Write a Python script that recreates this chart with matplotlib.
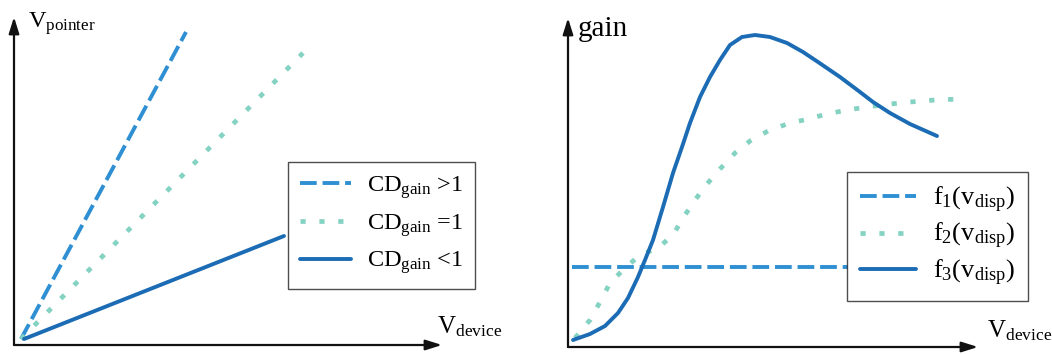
import matplotlib
matplotlib.use("Agg")
import matplotlib.pyplot as plt

plt.rcParams['font.family'] = ['Liberation Serif', 'DejaVu Serif']
plt.rcParams['mathtext.fontset'] = 'custom'
plt.rcParams['mathtext.rm'] = 'Liberation Serif'
plt.rcParams['mathtext.it'] = 'Liberation Serif:italic'
plt.rcParams['mathtext.bf'] = 'Liberation Serif:bold'

# ---------------- data (left panel: pointer vs device speed) ----------------
left_labels = [r"$\mathrm{CD}_{\mathrm{gain}}$ >1",
               r"$\mathrm{CD}_{\mathrm{gain}}$ =1",
               r"$\mathrm{CD}_{\mathrm{gain}}$ <1"]
gt1_x = [7, 172]
gt1_y = [5, 312]
eq1_x = [7, 289]
eq1_y = [5, 291]
lt1_x = [10, 270]
lt1_y = [5, 108]

# ---------------- data (right panel: gain vs device speed) ----------------
right_labels = [r"$\mathrm{f}_1(\mathrm{v}_{\mathrm{disp}})$",
                r"$\mathrm{f}_2(\mathrm{v}_{\mathrm{disp}})$",
                r"$\mathrm{f}_3(\mathrm{v}_{\mathrm{disp}})$"]
f1_x = [4, 280]
f1_y = [79, 79]
f2_x = [7, 22, 32, 42, 57, 72, 90, 105, 115, 127, 139, 152, 167, 182, 200,
        219, 240, 259, 279, 299, 322, 342, 367, 392]
f2_y = [8, 26, 44, 63, 78, 91, 98, 111, 128, 146, 162, 177, 193, 205, 215,
        222, 227, 232, 236, 239, 242, 244, 246, 247]
f3_x = [5, 22, 37, 50, 60, 70, 77, 85, 95, 105, 114, 122, 132, 142, 152, 162,
        174, 187, 202, 219, 235, 250, 272, 292, 305, 322, 342, 369]
f3_y = [6, 12, 20, 33, 48, 69, 86, 106, 139, 173, 199, 223, 249, 269, 286, 301,
        309, 311, 309, 303, 294, 284, 269, 254, 244, 233, 222, 210]

# ---------------- styles ----------------
C_DASH = '#2f8fd3'
C_DOT = '#84d2c2'
C_SOLID = '#1b6cb4'

fig = plt.figure(figsize=(10.52, 3.54), dpi=100)
axL = fig.add_axes([0, 0, 0.5, 1])
axR = fig.add_axes([0.5, 0, 0.5, 1])

axL.set_xlim(-14, 512)
axL.set_ylim(-10, 344)
axR.set_xlim(-42, 484)
axR.set_ylim(-8, 346)
for ax in (axL, axR):
    ax.set_axis_off()

arrow = dict(arrowstyle='-|>,head_length=0.7,head_width=0.22', lw=1.6,
             color='#111111', shrinkA=0, shrinkB=0, mutation_scale=14)

def draw_axes(ax, ytip, xtip):
    ax.annotate('', xy=(0, ytip), xytext=(0, -1), arrowprops=arrow)
    ax.annotate('', xy=(xtip, -1), xytext=(0, -1), arrowprops=arrow)

dash_kw = dict(color=C_DASH, lw=2.8, dashes=(4.3, 1.5), solid_capstyle='butt',
               dash_capstyle='butt')
dot_kw = dict(color=C_DOT, lw=3.4, dashes=(1.1, 2.9), dash_capstyle='butt')
solid_kw = dict(color=C_SOLID, lw=2.8, solid_capstyle='round',
                solid_joinstyle='round')

leg_kw = dict(loc='upper left', borderaxespad=0, frameon=True, fancybox=False,
              edgecolor='#222222', handlelength=2.1, handletextpad=0.65,
              borderpad=0.5)

# Left panel
draw_axes(axL, 327, 428)
axL.plot(gt1_x, gt1_y, label=left_labels[0], **dash_kw)
axL.plot(eq1_x, eq1_y, label=left_labels[1], **dot_kw)
axL.plot(lt1_x, lt1_y, label=left_labels[2], zorder=3, **solid_kw)
axL.text(14, 316, r"$\mathrm{V}_{\mathrm{pointer}}$", fontsize=17.5, ha='left', va='baseline')
axL.text(423, 11, r"$\mathrm{V}_{\mathrm{device}}$", fontsize=18, ha='left', va='baseline')

legL = axL.legend(bbox_to_anchor=(274, 182), bbox_transform=axL.transData,
                  fontsize=17.5, labelspacing=0.45, **leg_kw)
legL.get_frame().set_linewidth(1.0)

# Right panel
draw_axes(axR, 328, 410)
axR.plot(f1_x, f1_y, label=right_labels[0], **dash_kw)
axR.plot(f2_x, f2_y, label=right_labels[1], **dot_kw)
axR.plot(f3_x, f3_y, label=right_labels[2], zorder=3, **solid_kw)
axR.text(10, 310, "gain", fontsize=21, ha='left', va='baseline')
axR.text(419, 9, r"$\mathrm{V}_{\mathrm{device}}$", fontsize=18, ha='left', va='baseline')

legR = axR.legend(bbox_to_anchor=(279, 174), bbox_transform=axR.transData,
                  fontsize=19, labelspacing=0.23, **leg_kw)
legR.get_frame().set_linewidth(1.0)
legR.set_zorder(5)

fig.savefig('out.png', dpi=100)
